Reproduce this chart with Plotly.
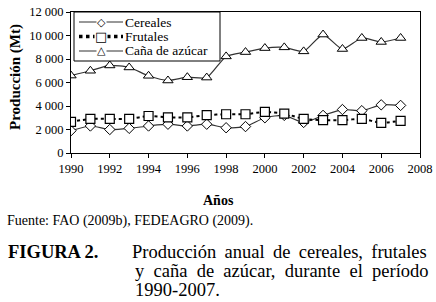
import plotly.graph_objects as go

years = list(range(1990, 2008))
cereales = [1900, 2300, 2000, 2100, 2300, 2450, 2300, 2450, 2150, 2250, 3000, 3200, 2600, 3200, 3700, 3600, 4100, 4050]
frutales = [2650, 2900, 2900, 2900, 3150, 3030, 3030, 3230, 3300, 3300, 3500, 3350, 2900, 2800, 2800, 2900, 2570, 2740]
cana = [6590, 7000, 7450, 7280, 6570, 6170, 6450, 6420, 8220, 8590, 8930, 8990, 8650, 10080, 8850, 9790, 9450, 9790]
series_names = ["Cereales", "Frutales", "Caña de azúcar"]
y_ticks = [0, 2000, 4000, 6000, 8000, 10000, 12000]
y_tick_text = ["0", "2 000", "4 000", "6 000", "8 000", "10 000", "12 000"]
x_ticks = list(range(1990, 2009, 2))

FONT = "Liberation Serif"
fig = go.Figure()
fig.add_trace(go.Scatter(x=years, y=cereales, name=series_names[0], mode="lines+markers",
                         line=dict(color="#333333", width=1.2, shape="spline", smoothing=0.6),
                         marker=dict(symbol="diamond", size=8, color="white", line=dict(color="black", width=1))))
fig.add_trace(go.Scatter(x=years, y=frutales, name=series_names[1], mode="lines+markers",
                         line=dict(color="black", width=2, dash="dot", shape="spline", smoothing=0.6),
                         marker=dict(symbol="square", size=9, color="white", line=dict(color="black", width=1.2))))
fig.add_trace(go.Scatter(x=years, y=cana, name=series_names[2], mode="lines+markers",
                         line=dict(color="#333333", width=1.2, shape="spline", smoothing=0.6),
                         marker=dict(symbol="triangle-up", size=9, color="white", line=dict(color="black", width=1))))

fig.update_layout(
    width=436, height=302,
    margin=dict(l=71, r=16, t=12, b=149, autoexpand=False),
    paper_bgcolor="white", plot_bgcolor="white",
    font=dict(family=FONT, size=13, color="black"),
    showlegend=False,
)
fig.update_xaxes(range=[1990, 2008], tickvals=x_ticks, ticks="outside", ticklen=4, tickcolor="black",
                 showline=True, linecolor="black", linewidth=1, mirror=True, showgrid=False, zeroline=False,
                 automargin=False, tickfont=dict(family=FONT, size=12.5))
fig.update_yaxes(range=[0, 12000], tickvals=y_ticks, ticktext=y_tick_text, ticks="outside", ticklen=4,
                 tickcolor="black", showline=True, linecolor="black", linewidth=1, mirror=True,
                 showgrid=False, zeroline=False, automargin=False, tickfont=dict(family=FONT, size=12.5))

def px_x(p):
    return (p - 71) / 349.0

def px_y(p):
    return (153 - p) / 141.0

# Compact legend box (Excel style)
fig.add_shape(type="rect", xref="paper", yref="paper", x0=px_x(74), x1=px_x(220), y0=px_y(61), y1=px_y(12),
              fillcolor="white", line=dict(color="black", width=1), layer="above")
legend_rows = [22, 36.5, 51]
sample_styles = [dict(color="#333333", width=1.2), dict(color="black", width=3.5, dash="dot"),
                 dict(color="#333333", width=1.2)]
glyphs = ["◇", "□", "△"]
glyph_sizes = [11, 13, 11]
for name, row, sty, g, gs in zip(series_names, legend_rows, sample_styles, glyphs, glyph_sizes):
    fig.add_shape(type="line", xref="paper", yref="paper", x0=px_x(79), x1=px_x(123), y0=px_y(row), y1=px_y(row),
                  line=sty, layer="above")
    fig.add_annotation(text=g, x=px_x(101), y=px_y(row), xref="paper", yref="paper", showarrow=False,
                       xanchor="center", yanchor="middle", bgcolor="white", borderpad=0,
                       font=dict(family="DejaVu Sans", size=gs, color="black"))
    fig.add_annotation(text=name, x=px_x(124), y=px_y(row), xref="paper", yref="paper", showarrow=False,
                       xanchor="left", yanchor="middle", borderpad=0,
                       font=dict(family=FONT, size=13.5, color="black"))

SP1 = " \u2009"
SP2 = " \u00a0"
line1 = SP1.join("Producción anual de cereales, frutales".split(" "))
line2 = SP2.join("y caña de azúcar, durante el período".split(" "))

ann = [
    dict(text="<b>Producción (Mt)</b>", x=px_x(15), y=px_y(77), textangle=-90, font=dict(size=15),
         xanchor="center", yanchor="middle"),
    dict(text="<b>Años</b>", x=px_x(218), y=px_y(200), font=dict(size=14), xanchor="center", yanchor="middle"),
    dict(text="Fuente: FAO (2009b), FEDEAGRO (2009).", x=px_x(6), y=px_y(221), font=dict(size=14),
         xanchor="left", yanchor="middle"),
    dict(text="<b>FIGURA 2.</b>", x=px_x(7), y=px_y(252), font=dict(size=18.5), xanchor="left", yanchor="middle"),
    dict(text=line1, x=px_x(131), y=px_y(252), font=dict(size=18.5), xanchor="left", yanchor="middle"),
    dict(text=line2, x=px_x(134), y=px_y(271), font=dict(size=18.5), xanchor="left", yanchor="middle"),
    dict(text="1990-2007.", x=px_x(134), y=px_y(290), font=dict(size=18.5), xanchor="left", yanchor="middle"),
]
for a in ann:
    a.update(xref="paper", yref="paper", showarrow=False, borderpad=0)
    a["font"] = dict(family=FONT, color="black", size=a["font"]["size"])
    fig.add_annotation(**a)

fig.write_html("out.html", config={"displayModeBar": False},
               post_script="document.body.style.margin='0';document.body.style.overflow='hidden';")
